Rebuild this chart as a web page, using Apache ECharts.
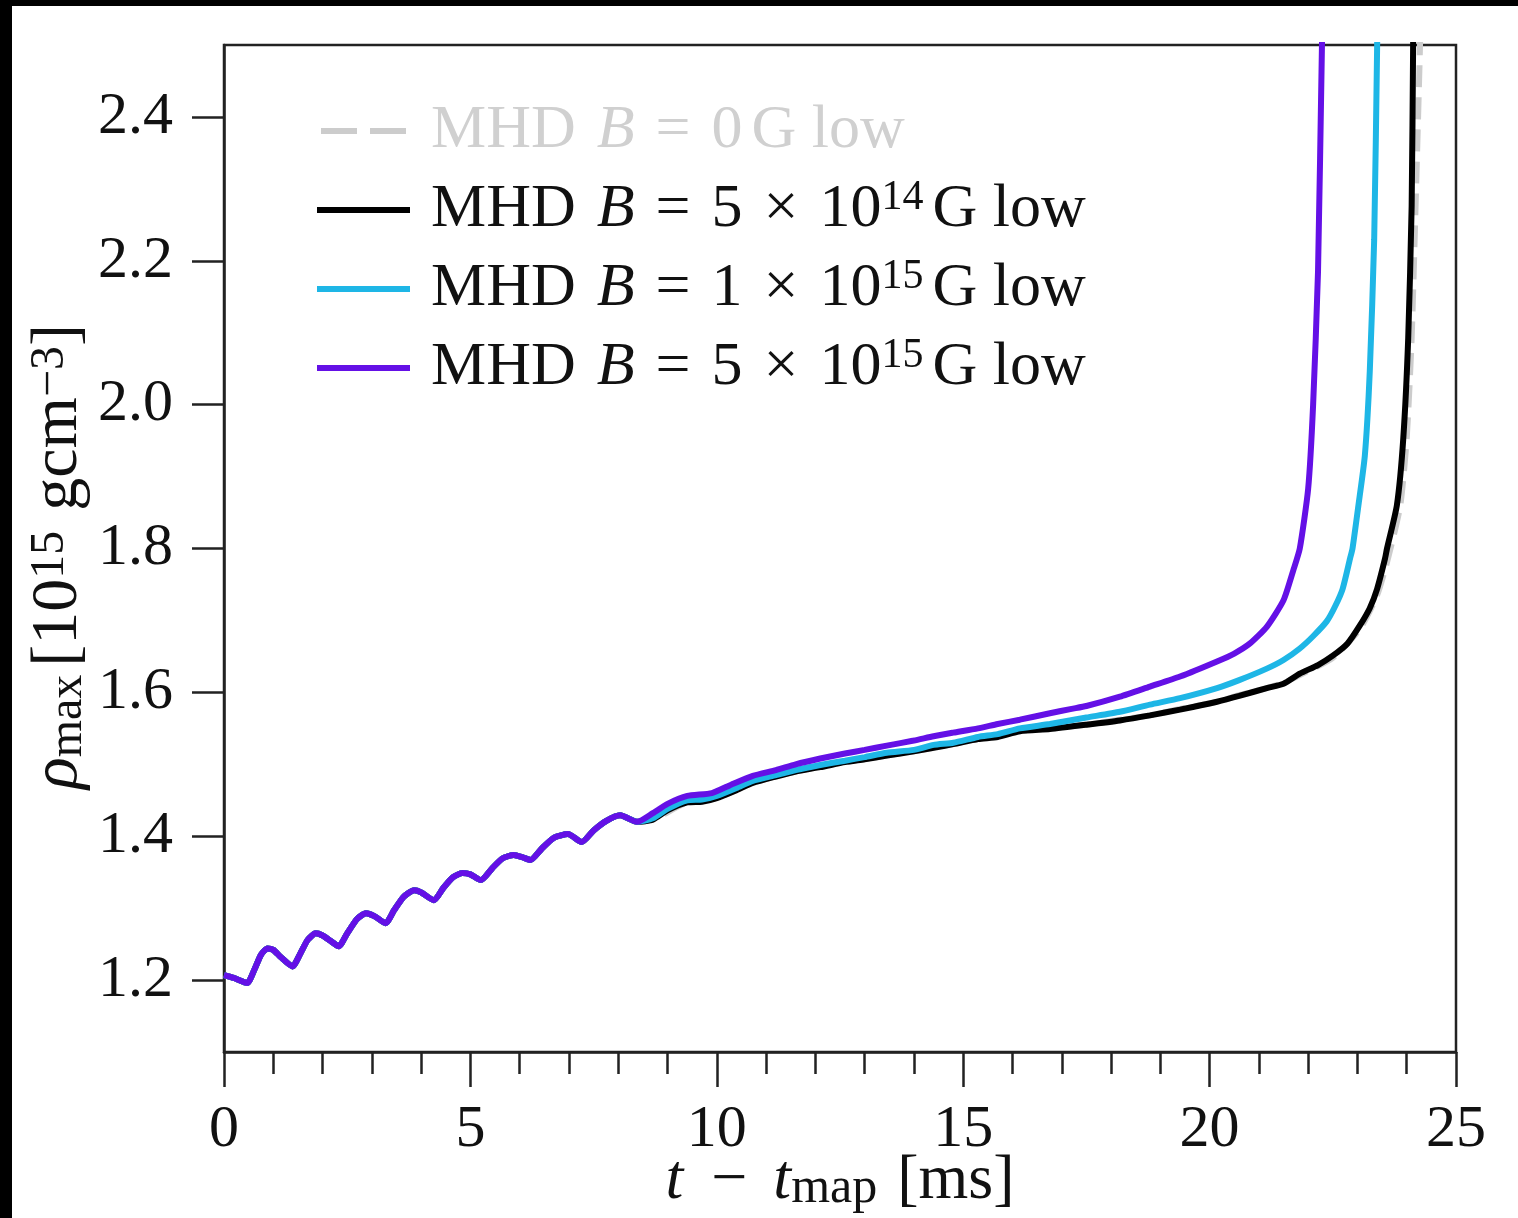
<!DOCTYPE html>
<html>
<head>
<meta charset="utf-8">
<script src="https://cdn.jsdelivr.net/npm/echarts@6/dist/echarts.min.js"></script>
<style>
html,body{margin:0;padding:0;background:#fff;}
#chart{width:1518px;height:1218px;}
</style>
</head>
<body>
<div id="chart"></div>
<script>
// ---- data (t - t_map [ms], rho_max [1e15 g cm^-3]) ----
const tEarly = [0.00,0.20,0.47,0.62,0.75,0.88,1.00,1.15,1.39,1.55,1.70,1.86,2.00,2.15,2.33,2.50,2.70,2.88,3.05,3.28,3.45,3.65,3.86,4.00,4.26,4.45,4.65,4.84,5.00,5.21,5.45,5.65,5.88,6.05,6.22,6.45,6.70,6.98,7.26,7.50,7.75,8.04,8.38];
const rhoEarly = [1.207,1.203,1.196,1.215,1.235,1.244,1.242,1.232,1.219,1.237,1.256,1.265,1.262,1.255,1.247,1.265,1.285,1.293,1.289,1.279,1.297,1.316,1.325,1.322,1.311,1.328,1.343,1.349,1.347,1.339,1.356,1.369,1.374,1.371,1.367,1.383,1.398,1.403,1.392,1.408,1.421,1.429,1.420];

const tPurple = [8.70,9.00,9.40,9.90,10.30,10.73,11.20,11.60,12.10,12.60,13.00,13.45,14.00,14.40,14.80,15.30,15.70,16.15,16.76,17.20,17.50,18.18,18.79,19.40,20.15,20.50,20.82,21.16,21.50,21.70,21.83,22.00,22.10,22.20,22.28,22.30];
const rhoPurple = [1.432,1.445,1.456,1.460,1.472,1.484,1.492,1.500,1.508,1.515,1.520,1.526,1.533,1.539,1.544,1.550,1.556,1.562,1.571,1.577,1.581,1.594,1.608,1.622,1.643,1.654,1.668,1.691,1.728,1.770,1.800,1.883,1.999,2.185,2.500,2.560];

const tCyan = [8.70,9.00,9.40,9.70,10.00,10.40,10.73,11.20,11.60,12.10,12.60,13.00,13.45,14.00,14.40,14.80,15.30,15.70,16.15,16.76,17.50,18.18,18.79,19.40,20.15,20.60,21.16,21.50,21.83,22.10,22.38,22.55,22.70,22.85,22.90,23.02,23.15,23.25,23.34,23.40,23.41];
const rhoCyan = [1.425,1.438,1.450,1.451,1.456,1.467,1.477,1.485,1.492,1.499,1.505,1.510,1.516,1.520,1.527,1.530,1.538,1.542,1.550,1.556,1.565,1.573,1.583,1.592,1.606,1.617,1.633,1.645,1.661,1.678,1.699,1.720,1.744,1.786,1.800,1.860,1.929,2.046,2.230,2.500,2.560];

const tBlack = [8.70,9.00,9.40,9.70,10.00,10.40,10.73,11.20,11.60,12.10,12.60,13.00,13.45,14.00,14.40,14.80,15.30,15.70,16.15,16.76,17.50,18.18,18.79,19.40,20.15,20.60,21.16,21.50,21.83,22.20,22.50,22.80,23.05,23.25,23.40,23.56,23.60,23.80,23.93,24.03,24.10,24.13,24.14];
const rhoBlack = [1.423,1.436,1.447,1.448,1.453,1.464,1.474,1.483,1.490,1.496,1.503,1.507,1.512,1.518,1.523,1.528,1.535,1.538,1.546,1.549,1.555,1.561,1.568,1.576,1.587,1.595,1.606,1.612,1.626,1.638,1.651,1.668,1.693,1.717,1.744,1.786,1.800,1.860,1.953,2.092,2.276,2.500,2.560];

const tGray = [8.70,9.40,10.00,10.73,11.60,12.60,13.45,14.40,15.30,16.15,16.76,17.50,18.18,18.79,19.40,20.15,20.60,21.16,21.50,21.83,22.50,23.05,23.40,23.62,23.87,24.00,24.10,24.18,24.27,24.28];
const rhoGray = [1.423,1.447,1.453,1.474,1.490,1.503,1.512,1.523,1.535,1.546,1.550,1.555,1.562,1.568,1.577,1.587,1.596,1.606,1.613,1.624,1.648,1.688,1.735,1.786,1.860,1.953,2.092,2.276,2.500,2.560];

const yTicks = [1.2,1.4,1.6,1.8,2.0,2.2,2.4];
const legendLabels = {
  'B0':    '{sp|}{a|MHD}{g|}{i|B}{g|}{a|=}{g|}{a|0}{th|}{a|G low}',
  'B5e14': '{sp|}{a|MHD}{g|}{i|B}{g|}{a|=}{g|}{a|5}{g|}{a|×}{g|}{a|10}{sup|14}{th|}{a|G low}',
  'B1e15': '{sp|}{a|MHD}{g|}{i|B}{g|}{a|=}{g|}{a|1}{g|}{a|×}{g|}{a|10}{sup|15}{th|}{a|G low}',
  'B5e15': '{sp|}{a|MHD}{g|}{i|B}{g|}{a|=}{g|}{a|5}{g|}{a|×}{g|}{a|10}{sup|15}{th|}{a|G low}'
};

function pairs(t1, r1, t2, r2) {
  const out = [];
  for (let i = 0; i < t1.length; i++) out.push([t1[i], r1[i]]);
  for (let i = 0; i < t2.length; i++) out.push([t2[i], r2[i]]);
  return out;
}

const FONT = "'Liberation Serif', serif";
const FS = 62;
const LH = 66;
const richLegend = {
  sp: {width: 16},
  g: {width: 21},
  th: {width: 9},
  a: {fontFamily: FONT, fontSize: FS, lineHeight: LH},
  i: {fontFamily: FONT, fontSize: FS, fontStyle: 'italic', lineHeight: LH},
  sup: {fontFamily: FONT, fontSize: 42, lineHeight: 44, verticalAlign: 'top'}
};

const chart = echarts.init(document.getElementById('chart'), null, {renderer: 'canvas'});
chart.setOption({
  animation: false,
  backgroundColor: '#ffffff',
  graphic: [
    {type: 'rect', shape: {x: 0, y: 0, width: 1518, height: 6}, style: {fill: '#000'}, z: 100},
    {type: 'rect', shape: {x: 0, y: 0, width: 12, height: 1218}, style: {fill: '#000'}, z: 100}
  ],
  grid: {left: 224, top: 45, right: 62, bottom: 166, outerBoundsMode: 'none', containLabel: false,
         show: true, borderColor: '#222', borderWidth: 2.5, backgroundColor: 'transparent'},
  legend: {
    orient: 'vertical', left: 312, top: 95, itemWidth: 93, itemHeight: 6, itemGap: 15,
    selectedMode: false,
    data: [
      {name: 'B0', icon: 'path://M0 0H36V6H0Z M49 0H85V6H49Z', textStyle: {color: '#d0d0d0'}},
      {name: 'B5e14', icon: 'rect'}, {name: 'B1e15', icon: 'rect'}, {name: 'B5e15', icon: 'rect'}
    ],
    formatter: function (n) { return legendLabels[n]; },
    textStyle: {color: '#111', fontFamily: FONT, fontSize: FS, rich: richLegend}
  },
  xAxis: {
    type: 'value', min: 0, max: 25, interval: 5,
    name: '{i|t}{g1|}{a|−}{g2|}{i|t}{sub|map}{g3|}{a|[ms]}',
    nameLocation: 'middle', nameGap: 96, nameMoveOverlap: false,
    nameTextStyle: {color: '#111', rich: {
      g1: {width: 28}, g2: {width: 26}, g3: {width: 20},
      a: {fontFamily: FONT, fontSize: 64, lineHeight: LH},
      i: {fontFamily: FONT, fontSize: 64, fontStyle: 'italic', lineHeight: LH},
      sub: {fontFamily: FONT, fontSize: 50, lineHeight: 42, verticalAlign: 'bottom'}
    }},
    axisLine: {show: true, lineStyle: {color: '#222', width: 2.5}},
    axisTick: {show: true, inside: false, length: 35, lineStyle: {color: '#222', width: 2.5}},
    minorTick: {show: true, splitNumber: 5, length: 22, lineStyle: {color: '#222', width: 2.5}},
    axisLabel: {color: '#111', fontFamily: FONT, fontSize: 60, margin: 48},
    splitLine: {show: false}
  },
  yAxis: {
    type: 'value', min: 1.1, max: 2.5,
    name: '{i|ρ}{sub|max}{s1|}{a|[10}{sup|15}{s2|}{a|gcm}{sup|−3}{a|]}',
    nameLocation: 'middle', nameRotate: 90, nameGap: 132, nameMoveOverlap: false,
    nameTextStyle: {color: '#111', padding: [0, 16, 0, 0], rich: {
      s1: {width: 8}, s2: {width: 20},
      a: {fontFamily: FONT, fontSize: 66, lineHeight: LH},
      i: {fontFamily: FONT, fontSize: 66, fontStyle: 'italic', lineHeight: LH},
      sub: {fontFamily: FONT, fontSize: 48, lineHeight: 42, verticalAlign: 'bottom'},
      sup: {fontFamily: FONT, fontSize: 48, lineHeight: 44, verticalAlign: 'top'}
    }},
    axisLine: {show: true, lineStyle: {color: '#222', width: 2.5}},
    axisTick: {show: true, inside: false, length: 32, customValues: yTicks, lineStyle: {color: '#222', width: 2.5}},
    axisLabel: {color: '#111', fontFamily: FONT, fontSize: 60, margin: 51, customValues: yTicks,
      formatter: function (v) { return v.toFixed(1); }},
    splitLine: {show: false}
  },
  series: [
    {name: 'B0', type: 'line', showSymbol: false, symbol: 'none', smooth: 0.2, clip: true, z: 1,
     data: pairs(tEarly, rhoEarly, tGray, rhoGray),
     lineStyle: {color: '#cccccc', width: 6, type: [22, 10]}, itemStyle: {color: '#cccccc'}},
    {name: 'B5e14', type: 'line', showSymbol: false, symbol: 'none', smooth: 0.2, clip: true, z: 2,
     data: pairs(tEarly, rhoEarly, tBlack, rhoBlack),
     lineStyle: {color: '#000000', width: 6}, itemStyle: {color: '#000000'}},
    {name: 'B1e15', type: 'line', showSymbol: false, symbol: 'none', smooth: 0.2, clip: true, z: 3,
     data: pairs(tEarly, rhoEarly, tCyan, rhoCyan),
     lineStyle: {color: '#1eb6e6', width: 6}, itemStyle: {color: '#1eb6e6'}},
    {name: 'B5e15', type: 'line', showSymbol: false, symbol: 'none', smooth: 0.2, clip: true, z: 4,
     data: pairs(tEarly, rhoEarly, tPurple, rhoPurple),
     lineStyle: {color: '#6410e6', width: 6}, itemStyle: {color: '#6410e6'}}
  ]
});
</script>
</body>
</html>
